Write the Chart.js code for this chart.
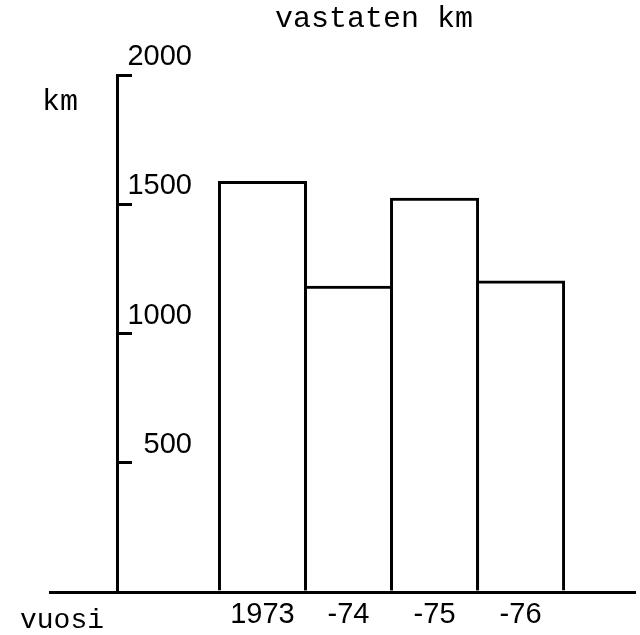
<!DOCTYPE html>
<html>
<head>
<meta charset="utf-8">
<script src="https://cdn.jsdelivr.net/npm/chart.js@4/dist/chart.umd.min.js"></script>
<style>
  html, body { margin: 0; padding: 0; background: #ffffff; }
  #wrap { width: 640px; height: 635px; }
</style>
</head>
<body>
<div id="wrap"><canvas id="c"></canvas></div>
<script>
// ---- data ----
const years = ['1973', '-74', '-75', '-76'];
const distanceKm = [1590, 1185, 1525, 1205];
const yTickValues = [0, 500, 1000, 1500, 2000];
const yTickLabels = ['', '500', '1000', '1500', '2000'];
const chartTitle = 'vastaten km';
const unitLabel = 'km';
const xAxisLabel = 'vuosi';

const numFont = { family: "'Liberation Sans', Arial, sans-serif", size: 29, lineHeight: 1 };
const typeFont = "'Liberation Mono', 'DejaVu Sans Mono', monospace";

const textPlugin = {
  id: 'freeText',
  afterDraw(chart) {
    const ctx = chart.ctx;
    ctx.save();
    ctx.fillStyle = '#000';
    ctx.textBaseline = 'alphabetic';
    ctx.textAlign = 'left';
    ctx.font = '30px ' + typeFont;
    ctx.fillText(chartTitle, 275, 27);
    ctx.fillText(unitLabel, 42, 110);
    ctx.font = '28px ' + typeFont;
    ctx.fillText(xAxisLabel, 20, 628);
    ctx.restore();
  }
};

new Chart(document.getElementById('c'), {
  type: 'bar',
  data: {
    datasets: [{
      data: distanceKm.map((v, i) => ({ x: i, y: v })),
      backgroundColor: 'rgba(255,255,255,0)',
      borderColor: '#000',
      borderWidth: 3,
      barPercentage: 1.035,
      categoryPercentage: 1,
      xAxisID: 'x',
      yAxisID: 'y'
    }]
  },
  options: {
    responsive: true,
    maintainAspectRatio: false,
    devicePixelRatio: 1,
    animation: false,
    layout: { padding: { left: 50, right: 5, top: 75, bottom: -2 } },
    plugins: { legend: { display: false }, tooltip: { enabled: false }, title: { display: false } },
    scales: {
      x: {
        type: 'linear',
        position: 'bottom',
        offset: false,
        min: -2.47,
        max: 4.33,
        afterBuildTicks: (s) => { s.ticks = years.map((_, i) => ({ value: i })); },
        grid: { display: false, drawTicks: false, offset: false },
        border: { display: true, color: '#000', width: 3 },
        ticks: {
          color: '#000',
          font: numFont,
          padding: 8,
          autoSkip: false,
          maxRotation: 0,
          callback: (v) => years[v]
        }
      },
      y: {
        type: 'linear',
        position: { x: -1.69 },
        min: 0,
        max: 2000,
        afterBuildTicks: (s) => { s.ticks = yTickValues.map(v => ({ value: v })); },
        grid: { display: true, drawOnChartArea: false, drawTicks: true, tickLength: -16, color: '#000', lineWidth: 3 },
        border: { display: true, color: '#000', width: 3 },
        ticks: { display: false }
      },
      yl: {
        type: 'linear',
        position: { x: -0.82 },
        min: 0,
        max: 2000,
        afterBuildTicks: (s) => { s.ticks = yTickValues.map(v => ({ value: v })); },
        grid: { display: false, drawTicks: false },
        border: { display: false },
        ticks: {
          color: '#000',
          font: numFont,
          padding: 0,
          labelOffset: -18,
          callback: (v, i) => yTickLabels[i]
        }
      }
    }
  },
  plugins: [textPlugin]
});
</script>
</body>
</html>
